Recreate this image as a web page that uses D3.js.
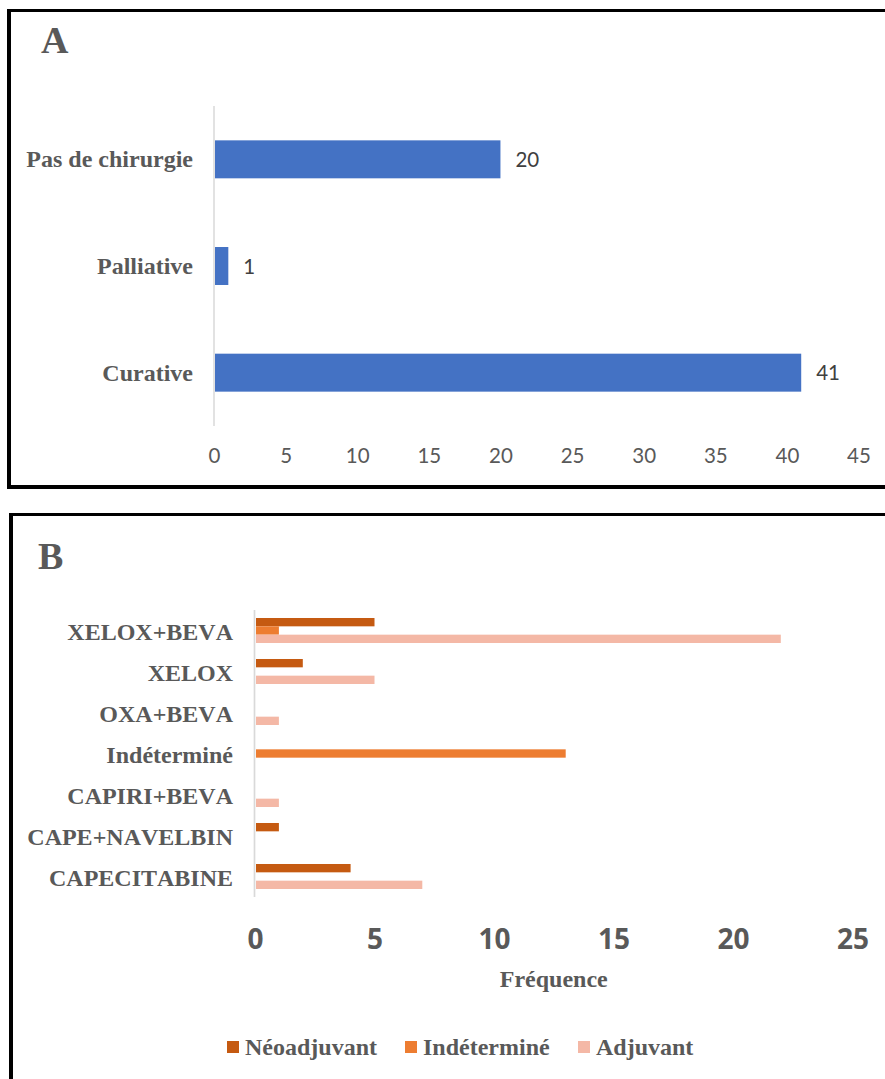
<!DOCTYPE html>
<html>
<head>
<meta charset="utf-8">
<script src="https://cdn.jsdelivr.net/npm/d3@7"></script>
<style>
  html, body { margin: 0; padding: 0; background: #fff; }
  svg { display: block; }
  .serif { font-family: "Liberation Serif", "Times New Roman", serif; font-weight: bold; fill: #595959; font-kerning: none; }
</style>
</head>
<body>
<svg id="fig" width="885" height="1079"></svg>
<script>
// Panel A: type of surgery
const surgeryCats = ["Pas de chirurgie", "Palliative", "Curative"];
const surgeryValues = [20, 1, 41];
const surgeryTicks = [0, 5, 10, 15, 20, 25, 30, 35, 40, 45];

// Panel B: chemotherapy protocols by setting
const protocolCats = ["XELOX+BEVA", "XELOX", "OXA+BEVA", "Indéterminé", "CAPIRI+BEVA", "CAPE+NAVELBIN", "CAPECITABINE"];
const seriesNames = ["Néoadjuvant", "Indéterminé", "Adjuvant"];
const neoadjuvant = [5, 2, 0, 0, 0, 1, 4];
const indetermine = [1, 0, 0, 13, 0, 0, 0];
const adjuvant = [22, 5, 1, 0, 1, 0, 7];
const protocolTicks = [0, 5, 10, 15, 20, 25];

const seriesColors = ["#C55A11", "#ED7D31", "#F4B8A6"];
const seriesValues = [neoadjuvant, indetermine, adjuvant];

const svg = d3.select("#fig");

// ---------- frames ----------
const frame = svg.append("g");
frame.append("rect").attr("x", 7).attr("y", 9).attr("width", 878).attr("height", 3).attr("fill", "#000");
frame.append("rect").attr("x", 7).attr("y", 9).attr("width", 4).attr("height", 480).attr("fill", "#000");
frame.append("rect").attr("x", 7).attr("y", 485).attr("width", 878).attr("height", 4).attr("fill", "#000");
frame.append("rect").attr("x", 9).attr("y", 513).attr("width", 876).attr("height", 3).attr("fill", "#000");
frame.append("rect").attr("x", 9).attr("y", 513).attr("width", 4).attr("height", 566).attr("fill", "#000");

// ---------- Panel A ----------
const gA = svg.append("g");
gA.append("text").attr("class", "serif").attr("x", 41).attr("y", 53)
  .style("font-size", "38px").text("A");

const xA = d3.scaleLinear().domain([0, 45]).range([214, 858.5]);
const yA = d3.scaleBand().domain(surgeryCats).range([106, 426])
  .paddingInner(0.644).paddingOuter(0.322);

gA.selectAll("rect.bar").data(surgeryCats).join("rect")
  .attr("class", "bar")
  .attr("x", xA(0) + 1)
  .attr("y", d => yA(d))
  .attr("width", (d, i) => xA(surgeryValues[i]) - xA(0) - 1)
  .attr("height", yA.bandwidth())
  .attr("fill", "#4472C4");

gA.append("line").attr("x1", xA(0)).attr("x2", xA(0)).attr("y1", 106).attr("y2", 426)
  .attr("stroke", "#d9d9d9").attr("stroke-width", 1.5);

gA.selectAll("text.cat").data(surgeryCats).join("text")
  .attr("class", "serif cat")
  .attr("x", 193).attr("y", d => yA(d) + yA.bandwidth() / 2 + 8)
  .attr("text-anchor", "end").style("font-size", "24px").text(d => d);

gA.selectAll("text.val").data(surgeryCats).join("text")
  .attr("class", "val")
  .attr("x", (d, i) => xA(surgeryValues[i]) + 15)
  .attr("y", d => yA(d) + yA.bandwidth() / 2 + 7.5)
  .style("font-family", "Lato, 'Open Sans', sans-serif").style("font-size", "20.5px")
  .attr("fill", "#404040")
  .text((d, i) => surgeryValues[i]);

const axA = gA.append("g").attr("transform", "translate(0,426)")
  .call(d3.axisBottom(xA).tickValues(surgeryTicks).tickSize(0).tickFormat(d3.format("d")));
axA.select(".domain").remove();
axA.selectAll("text").attr("dy", null).attr("y", 37)
  .style("font-family", "Lato, 'Open Sans', sans-serif").style("font-size", "20.5px")
  .attr("fill", "#595959");

// ---------- Panel B ----------
const gB = svg.append("g");
gB.append("text").attr("class", "serif").attr("x", 38).attr("y", 569)
  .style("font-size", "38px").text("B");

const xB = d3.scaleLinear().domain([0, 25]).range([255, 852.5]);
const yB = d3.scaleBand().domain(protocolCats).range([610, 897])
  .paddingInner(0.39).paddingOuter(0.195);
const yB1 = d3.scaleBand().domain(seriesNames).range([0, yB.bandwidth()]);

const groups = gB.selectAll("g.grp").data(protocolCats).join("g")
  .attr("class", "grp")
  .attr("transform", d => `translate(0,${yB(d)})`);

groups.selectAll("rect").data((d, ci) => seriesNames.map((s, si) => ({ s, si, v: seriesValues[si][ci] })))
  .join("rect")
  .attr("x", xB(0) + 1)
  .attr("y", d => yB1(d.s))
  .attr("width", d => d.v > 0 ? xB(d.v) - xB(0) - 1 : 0)
  .attr("height", yB1.bandwidth())
  .attr("fill", d => seriesColors[d.si]);

gB.append("line").attr("x1", xB(0) - 0.5).attr("x2", xB(0) - 0.5).attr("y1", 610).attr("y2", 897)
  .attr("stroke", "#d9d9d9").attr("stroke-width", 1.7);

gB.selectAll("text.cat").data(protocolCats).join("text")
  .attr("class", "serif cat")
  .attr("x", 233).attr("y", d => yB(d) + yB.bandwidth() / 2 + 9)
  .attr("text-anchor", "end").style("font-size", "24px").text(d => d);

const axB = gB.append("g").attr("transform", "translate(0,897)")
  .call(d3.axisBottom(xB).tickValues(protocolTicks).tickSize(0).tickFormat(d3.format("d")));
axB.select(".domain").remove();
axB.selectAll("text").attr("dy", null).attr("y", 52)
  .style("font-family", "'Open Sans', sans-serif").style("font-weight", "bold").style("font-size", "28px")
  .attr("fill", "#595959");

gB.append("text").attr("class", "serif").attr("x", (xB(0) + xB(25)) / 2).attr("y", 987)
  .attr("text-anchor", "middle").style("font-size", "24px").text("Fréquence");

// legend
const legendX = [227, 405, 578];
const leg = gB.selectAll("g.leg").data(seriesNames).join("g")
  .attr("class", "leg")
  .attr("transform", (d, i) => `translate(${legendX[i]},1041)`);
leg.append("rect").attr("width", 12).attr("height", 12).attr("fill", (d, i) => seriesColors[i]);
leg.append("text").attr("class", "serif").attr("x", 18).attr("y", 14)
  .style("font-size", "24px").text(d => d);
</script>
</body>
</html>
